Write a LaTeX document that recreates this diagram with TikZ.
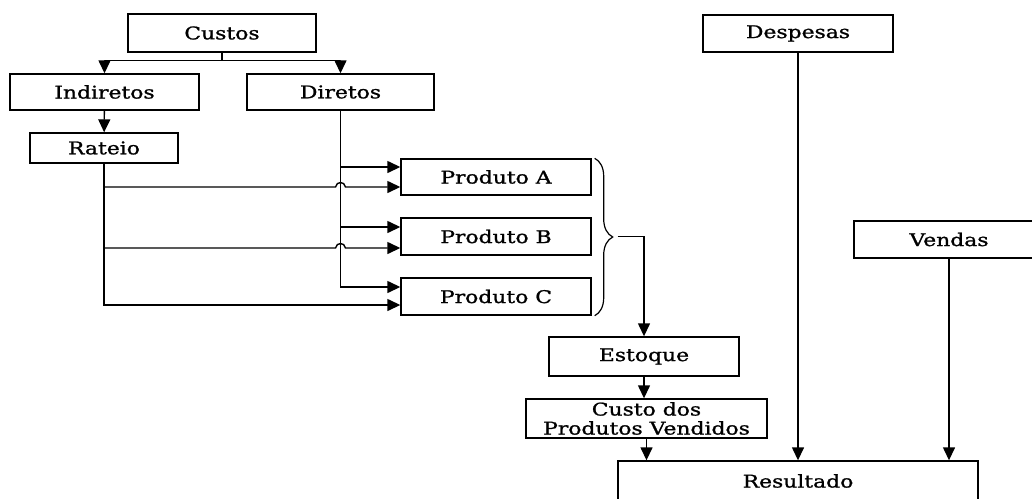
\documentclass[tikz,border=0pt]{standalone}
\usepackage{fontspec}
\setmainfont[FakeStretch=1.25,FakeBold=1.2]{DejaVu Serif}
\usetikzlibrary{arrows.meta,decorations.pathreplacing}

\begin{document}
\begin{tikzpicture}[x=1pt, y=-1pt, line width=1.4pt,
    >={Triangle[length=13pt,width=12pt]},
    box/.style={rectangle, draw, minimum width=190pt, minimum height=37pt, inner sep=2pt, align=center, font=\fontsize{17.5}{19}\selectfont}]
    \useasboundingbox (0,0) rectangle (1032,498);
    \node (custos) [box, minimum width=188pt, minimum height=38pt] at (222,33) {Custos};
    \node (despesas) [box] at (798,33.5) {Despesas};
    \node (indir) [box, minimum width=189pt, minimum height=36pt] at (104.5,92) {Indiretos};
    \node (dir) [box, minimum width=187pt, minimum height=36pt] at (340.5,92) {Diretos};
    \node (rateio) [box, minimum width=148pt, minimum height=30pt] at (104,148) {Rateio};
    \node (prodA) [box, minimum height=36pt] at (496,177) {Produto A};
    \node (prodB) [box] at (496,236.5) {Produto B};
    \node (prodC) [box] at (496,296.5) {Produto C};
    \node (vendas) [box] at (949,239.5) {Vendas};
    \node (estoque) [box, minimum height=39pt] at (644,356.5) {Estoque};
    \node (cpv) [box, minimum width=241pt, minimum height=39pt, inner sep=1pt] at (646.5,418.5) {Custo dos\\Produtos Vendidos};
    \node (result) [box, minimum width=360pt, minimum height=40pt] at (798,481) {Resultado};
    % custos
    \draw[->] (custos.south) -- ++(0,8) -| (indir.north);
    \draw[->] (custos.south) -- ++(0,8) -| (dir.north);
    \draw[->] (indir) -- (rateio);
    % entradas dos produtos
    \coordinate (inA1) at ([yshift=10pt]prodA.west);
    \coordinate (inA2) at ([yshift=-10pt]prodA.west);
    \coordinate (inB1) at ([yshift=9.5pt]prodB.west);
    \coordinate (inB2) at ([yshift=-11.5pt]prodB.west);
    \coordinate (inC1) at ([yshift=9.5pt]prodC.west);
    \coordinate (inC2) at ([yshift=-8.5pt]prodC.west);
    \draw[->] (dir.south) |- (inC1);
    \draw[->] (dir.south |- inA1) -- (inA1);
    \draw[->] (dir.south |- inB1) -- (inB1);
    \draw[->] (rateio.south) |- (inC2);
    \coordinate (jA) at (dir.south |- inA2);
    \coordinate (jB) at (dir.south |- inB2);
    \draw[->] (rateio.south |- inA2) -- ([xshift=-5pt]jA) .. controls ([xshift=-4pt,yshift=6pt]jA) and ([xshift=4pt,yshift=6pt]jA) .. ([xshift=5pt]jA) -- (inA2);
    \draw[->] (rateio.south |- inB2) -- ([xshift=-5pt]jB) .. controls ([xshift=-4pt,yshift=6pt]jB) and ([xshift=4pt,yshift=6pt]jB) .. ([xshift=5pt]jB) -- (inB2);
    % chave e estoque
    \draw[line width=1.2pt, decorate, decoration={brace, amplitude=18pt}] ([xshift=3pt]prodA.north east) -- ([xshift=3pt]prodC.south east);
    \draw[->] ([xshift=26pt]prodB.east) -| (estoque.north);
    \draw[->] (estoque.south) -- (estoque.south |- cpv.north);
    \draw[->] (cpv.south) -- (cpv.south |- result.north);
    \draw[->] (despesas) -- (result);
    \draw[->] (vendas.south) -- (vendas.south |- result.north);
\end{tikzpicture}
\end{document}
